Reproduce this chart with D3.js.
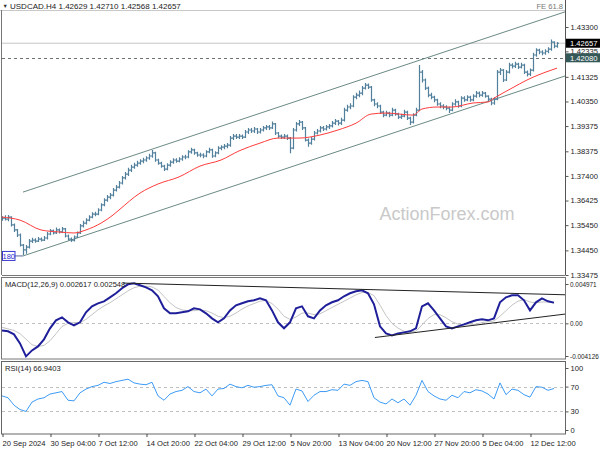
<!DOCTYPE html>
<html><head><meta charset="utf-8">
<script src="https://cdn.jsdelivr.net/npm/d3@7"></script>
<style>body{margin:0;background:#fff}svg{display:block;font-family:"Liberation Sans",Arial,sans-serif}</style>
</head><body><svg id="c" width="600" height="450"></svg>
<script>
// ---------- DATA ----------
const symbol = "USDCAD.H4";
const lastOHLC = ["1.42629", "1.42710", "1.42568", "1.42657"];
const firstOpen = 1.3568;
const closes = [
1.3573,1.3569,1.3577,1.3546,1.3526,1.3506,1.3466,1.3447,1.3458,1.3482,
1.3486,1.3482,1.3490,1.3486,1.3494,1.3510,1.3522,1.3514,1.3526,1.3518,
1.3530,1.3502,1.3490,1.3486,1.3498,1.3514,1.3542,1.3553,1.3565,1.3577,
1.3589,1.3589,1.3605,1.3625,1.3644,1.3656,1.3664,1.3684,1.3696,1.3712,
1.3732,1.3747,1.3763,1.3775,1.3783,1.3791,1.3799,1.3803,1.3811,1.3819,
1.3831,1.3803,1.3791,1.3779,1.3767,1.3783,1.3795,1.3803,1.3799,1.3807,
1.3815,1.3815,1.3835,1.3843,1.3831,1.3823,1.3823,1.3819,1.3835,1.3843,
1.3819,1.3831,1.3850,1.3854,1.3858,1.3862,1.3890,1.3898,1.3894,1.3898,
1.3894,1.3914,1.3922,1.3918,1.3926,1.3914,1.3922,1.3930,1.3934,1.3930,
1.3946,1.3910,1.3898,1.3894,1.3898,1.3890,1.3850,1.3922,1.3946,1.3953,
1.3930,1.3882,1.3870,1.3886,1.3910,1.3918,1.3930,1.3926,1.3934,1.3938,
1.3949,1.3957,1.3949,1.3961,1.4001,1.4013,1.4017,1.4052,1.4060,1.4068,
1.4088,1.4100,1.4092,1.4041,1.4025,1.4017,1.3993,1.3981,1.3989,1.3981,
1.4001,1.3985,1.3973,1.3977,1.3993,1.3969,1.3953,1.3981,1.4001,1.4151,
1.4120,1.4088,1.4060,1.4052,1.4041,1.4025,1.4017,1.4013,1.4009,1.4001,
1.4025,1.4033,1.4017,1.4048,1.4041,1.4052,1.4041,1.4056,1.4068,1.4060,
1.4068,1.4056,1.4044,1.4029,1.4044,1.4151,1.4159,1.4120,1.4151,1.4179,
1.4175,1.4183,1.4171,1.4179,1.4151,1.4143,1.4159,1.4219,1.4238,1.4231,
1.4227,1.4234,1.4242,1.4270,1.4254,1.42657];
const highs = [
1.3580,1.3584,1.3585,1.3580,1.3552,1.3530,1.3512,1.3470,1.3466,1.3490,
1.3495,1.3493,1.3498,1.3496,1.3502,1.3518,1.3530,1.3528,1.3536,1.3532,
1.3538,1.3534,1.3508,1.3496,1.3504,1.3520,1.3550,1.3562,1.3572,1.3584,
1.3596,1.3598,1.3612,1.3632,1.3652,1.3664,1.3672,1.3692,1.3704,1.3720,
1.3740,1.3756,1.3772,1.3784,1.3792,1.3800,1.3806,1.3812,1.3818,1.3828,
1.3843,1.3836,1.3808,1.3796,1.3784,1.3790,1.3802,1.3810,1.3810,1.3814,
1.3822,1.3824,1.3842,1.3852,1.3848,1.3836,1.3832,1.3830,1.3842,1.3852,
1.3848,1.3838,1.3858,1.3862,1.3866,1.3870,1.3898,1.3906,1.3906,1.3906,
1.3904,1.3922,1.3930,1.3930,1.3934,1.3930,1.3930,1.3938,1.3942,1.3942,
1.3956,1.3950,1.3914,1.3904,1.3906,1.3904,1.3894,1.3930,1.3954,1.3962,
1.3958,1.3934,1.3888,1.3894,1.3918,1.3926,1.3938,1.3938,1.3942,1.3946,
1.3958,1.3966,1.3962,1.3970,1.4010,1.4022,1.4028,1.4060,1.4070,1.4078,
1.4096,1.4108,1.4106,1.4096,1.4046,1.4032,1.4022,1.3998,1.3998,1.3994,
1.4010,1.4006,1.3990,1.3986,1.4002,1.3998,1.3974,1.3988,1.4010,1.4179,
1.4160,1.4126,1.4094,1.4070,1.4058,1.4046,1.4032,1.4024,1.4020,1.4014,
1.4032,1.4044,1.4038,1.4056,1.4056,1.4060,1.4058,1.4064,1.4076,1.4074,
1.4076,1.4072,1.4060,1.4050,1.4052,1.4160,1.4168,1.4164,1.4160,1.4188,
1.4186,1.4192,1.4188,1.4188,1.4184,1.4158,1.4166,1.4228,1.4246,1.4244,
1.4238,1.4242,1.4250,1.4280,1.4274,1.4271];
const lows = [
1.3562,1.3563,1.3560,1.3540,1.3518,1.3498,1.3460,1.3427,1.3432,1.3452,
1.3474,1.3475,1.3478,1.3480,1.3482,1.3488,1.3505,1.3508,1.3510,1.3512,
1.3514,1.3496,1.3484,1.3478,1.3480,1.3494,1.3510,1.3536,1.3548,1.3560,
1.3572,1.3580,1.3584,1.3600,1.3620,1.3638,1.3648,1.3658,1.3678,1.3690,
1.3706,1.3726,1.3740,1.3756,1.3768,1.3776,1.3784,1.3790,1.3796,1.3804,
1.3812,1.3796,1.3784,1.3772,1.3760,1.3762,1.3776,1.3788,1.3792,1.3794,
1.3800,1.3806,1.3810,1.3828,1.3824,1.3816,1.3814,1.3810,1.3814,1.3830,
1.3812,1.3814,1.3826,1.3842,1.3846,1.3850,1.3856,1.3882,1.3886,1.3886,
1.3886,1.3890,1.3906,1.3910,1.3910,1.3906,1.3908,1.3916,1.3922,1.3922,
1.3926,1.3902,1.3890,1.3886,1.3886,1.3882,1.3830,1.3846,1.3916,1.3938,
1.3922,1.3876,1.3856,1.3864,1.3880,1.3904,1.3912,1.3918,1.3920,1.3926,
1.3932,1.3942,1.3940,1.3942,1.3956,1.3994,1.4004,1.4012,1.4044,1.4052,
1.4060,1.4082,1.4084,1.4034,1.4016,1.4008,1.3986,1.3972,1.3976,1.3972,
1.3976,1.3978,1.3966,1.3966,1.3972,1.3962,1.3942,1.3948,1.3976,1.3996,
1.4110,1.4080,1.4052,1.4044,1.4032,1.4018,1.4008,1.4004,1.4000,1.3989,
1.3996,1.4018,1.4010,1.4012,1.4034,1.4036,1.4034,1.4036,1.4050,1.4052,
1.4054,1.4050,1.4036,1.4020,1.4022,1.4040,1.4140,1.4112,1.4116,1.4146,
1.4166,1.4168,1.4164,1.4166,1.4144,1.4134,1.4136,1.4154,1.4212,1.4222,
1.4218,1.4220,1.4226,1.4236,1.4246,1.4248];

// red moving average (bar index, value)
const maIdx = [0,6,13,19,24,28,33,37,39,46,52,59,66,73,79,86,92,99,106,112,118,123,128,137,140,145,150,157,162,164,170,175,177,185];
const maVal = [1.3577,1.3565,1.3526,1.3518,1.3514,1.3526,1.3553,1.3585,1.3605,1.3672,1.3708,1.3736,1.3779,1.3803,1.3839,1.3870,1.3890,1.3890,1.3902,1.3922,1.3949,1.3985,1.3989,1.3981,1.4005,1.4013,1.4013,1.4029,1.4033,1.4048,1.4088,1.4120,1.4131,1.4167];

// MACD(12,26,9), one value every 2 bars
const macdMain = [
-0.00089,-0.00101,-0.00139,-0.00253,-0.00417,-0.00342,-0.00291,-0.00202,-0.00063,0.00038,
0.00076,0.00013,-0.00025,0.00013,0.00139,0.00215,0.00253,0.00278,0.00329,0.00380,
0.00443,0.00493,0.00506,0.00481,0.00455,0.00417,0.00342,0.00190,0.00127,0.00127,
0.00139,0.00152,0.00190,0.00177,0.00127,0.00063,0.00013,0.00063,0.00164,0.00228,
0.00253,0.00278,0.00291,0.00316,0.00291,0.00164,0.00013,-0.00063,0.00013,0.00190,
0.00215,0.00089,0.00063,0.00164,0.00228,0.00266,0.00291,0.00342,0.00380,0.00405,
0.00417,0.00380,0.00240,-0.00038,-0.00127,-0.00152,-0.00127,-0.00114,-0.00101,-0.00063,
0.00215,0.00253,0.00164,0.00063,-0.00038,-0.00063,-0.00038,-0.00013,0.00013,0.00038,
0.00051,0.00038,0.00063,0.00266,0.00329,0.00354,0.00354,0.00291,0.00164,0.00266,
0.00316,0.00278,0.00262];
const macdSignal = [
-0.0005,-0.0007,-0.0009,-0.0013,-0.0020,-0.0027,-0.0029,-0.0028,-0.0022,-0.0013,
-0.0004,0.0000,0.0001,0.0001,0.0005,0.0011,0.0017,0.0022,0.0026,0.0031,
0.0036,0.0041,0.0045,0.0047,0.0047,0.0046,0.0042,0.0034,0.0026,0.0020,
0.0017,0.0016,0.0016,0.0017,0.0016,0.0013,0.0009,0.0007,0.0009,0.0013,
0.0018,0.0022,0.0025,0.0028,0.0029,0.0025,0.0018,0.0009,0.0005,0.0008,
0.0013,0.0013,0.0011,0.0012,0.0016,0.0020,0.0024,0.0028,0.0032,0.0036,
0.0039,0.0039,0.0035,0.0023,0.0010,0.0000,-0.0006,-0.0010,-0.0011,-0.0010,
-0.0002,0.0006,0.0011,0.0011,0.0007,0.0002,-0.0001,-0.0002,-0.0002,-0.0001,
0.0001,0.0002,0.0003,0.0009,0.0016,0.0023,0.0028,0.0030,0.0027,0.0026,
0.0027,0.0027,0.00255];
const macdText = ["0.002617", "0.002548"];
// RSI(14), one value every 2 bars
const rsi = [
55,52,40,33,30,45,50,52,58,60,
62,48,47,60,66,70,72,77,75,78,
80,82,76,74,73,77,55,48,58,62,
64,70,62,60,66,55,66,67,74,70,
68,72,69,70,72,73,55,52,40,66,
63,46,56,62,62,65,64,74,72,78,
80,78,52,45,42,50,44,50,40,56,
80,62,55,50,48,56,52,62,60,65,
63,58,50,76,57,66,64,57,53,70,
69,64,66.94];
const rsiText = "66.9403";
const sampleStep = 2;

const priceTicks = [1.43300,1.42335,1.41325,1.40350,1.39375,1.38375,1.37400,1.36425,1.35450,1.34450,1.33475];
const macdTicks = [0.004971, 0, -0.004126];
const macdTickText = ["0.004971", "0.00", "-0.004126"];
const rsiTicks = [100, 70, 30, 0];
const rsiLevels = [70, 30];
const timeLabels = ["20 Sep 2024","30 Sep 04:00","7 Oct 12:00","14 Oct 20:00","22 Oct 04:00","29 Oct 12:00","5 Nov 20:00","13 Nov 04:00","20 Nov 12:00","27 Nov 20:00","5 Dec 04:00","12 Dec 12:00"];
const timeIdx = [0,16,32,48,64,80,96,112,128,144,160,176];
const lastIndex = 187.67;

const channelUpper = [[7, 1.3676], [187.67, 1.4390]];
const channelLower = [[7, 1.3423], [187.67, 1.4136]];
const macdUpper = [[40.3, 0.00509], [187.67, 0.00361]];
const macdLower = [[124.3, -0.00179], [187.67, 0.00117]];
const bidLevel = 1.42657;
const dashLevel = 1.42080;
const lowLabel = {idx: 7, price: 1.3423, text: "180"};
const feText = "FE 61.8";
const watermark = "ActionForex.com";

// ---------- DRAW ----------
const svg = d3.select("#c");
const L = 2, R = 565;
const P = {main:[10,275], macd:[277.5,359], rsi:[361.5,434]};
const x = d3.scaleLinear().domain([0, lastIndex]).range([L, R]);
const yP = d3.scaleLinear().domain([1.33475, 1.43300]).range([275, 27]);
const yM = d3.scaleLinear().domain([-0.004126, 0.004971]).range([356, 284]);
const yR = d3.scaleLinear().domain([0, 100]).range([430, 368]);
const fs = 7.6, txt = "#222";

const defs = svg.append("defs");
Object.entries(P).forEach(([k,[t,b]]) => {
  defs.append("clipPath").attr("id","cl-"+k).append("rect")
    .attr("x",L).attr("y",t).attr("width",R-L).attr("height",b-t);
});

// watermark
svg.append("text").attr("x",447).attr("y",220).attr("text-anchor","middle")
  .attr("font-size",18).attr("fill","#c9c9c9").text(watermark);

// ---- main panel ----
const gm = svg.append("g").attr("clip-path","url(#cl-main)");
gm.append("line").attr("x1",L).attr("x2",R).attr("y1",yP(bidLevel)).attr("y2",yP(bidLevel))
  .attr("stroke","#c6c6c6").attr("stroke-width",1);
gm.append("line").attr("x1",L).attr("x2",R).attr("y1",Math.round(yP(dashLevel))+0.5).attr("y2",Math.round(yP(dashLevel))+0.5)
  .attr("stroke","#6a7272").attr("stroke-dasharray","3,3");

const lineP = d3.line().x(d=>x(d[0])).y(d=>yP(d[1]));
[channelUpper, channelLower].forEach(c => gm.append("path").attr("d",lineP(c))
  .attr("fill","none").attr("stroke","#6a8a84").attr("stroke-width",1));

// bars
const bars = d3.range(closes.length).map(i => ({i, o: i ? closes[i-1] : firstOpen, h: highs[i], l: lows[i], c: closes[i]}));
gm.append("g").selectAll("path").data(bars).join("path")
  .attr("d", d => {
    const xx = Math.round(x(d.i)) + 0.5;
    return `M${xx},${yP(d.h)}V${yP(d.l)}M${xx-1.5},${yP(d.o)}H${xx}M${xx},${yP(d.c)}H${xx+1.5}`;
  })
  .attr("fill","none").attr("stroke","#52809c").attr("stroke-width",1.2);

// MA
gm.append("path").datum(maIdx.map((d,i)=>[d, maVal[i]]))
  .attr("d", d3.line().x(d=>x(d[0])).y(d=>yP(d[1])).curve(d3.curveMonotoneX))
  .attr("fill","none").attr("stroke","#ff3b3b").attr("stroke-width",1);

// low label box
svg.append("line").attr("x1",15).attr("x2",x(lowLabel.idx)).attr("y1",yP(lowLabel.price)).attr("y2",yP(lowLabel.price))
  .attr("stroke","#5a6a9a");
svg.append("rect").attr("x",2.5).attr("y",yP(lowLabel.price)-4.5).attr("width",12.5).attr("height",9)
  .attr("fill","#fff").attr("stroke","#3a3ad0");
svg.append("text").attr("x",8.8).attr("y",yP(lowLabel.price)+3).attr("text-anchor","middle")
  .attr("font-size",7.5).attr("fill","#2a2ad0").text(lowLabel.text);

// frame main
svg.append("line").attr("x1",0).attr("x2",R).attr("y1",10.5).attr("y2",10.5).attr("stroke","#c8c8c8");
svg.append("line").attr("x1",L-0.5).attr("x2",L-0.5).attr("y1",10).attr("y2",P.main[1]).attr("stroke","#777");
svg.append("line").attr("x1",L).attr("x2",R).attr("y1",P.main[1]+0.5).attr("y2",P.main[1]+0.5).attr("stroke","#777");
svg.append("line").attr("x1",R+0.5).attr("x2",R+0.5).attr("y1",0).attr("y2",P.main[1]).attr("stroke","#555");

// price axis
const ax = svg.append("g").attr("transform",`translate(${R+0.5},0)`)
  .call(d3.axisRight(yP).tickValues(priceTicks).tickFormat(d3.format(".5f")).tickSize(3).tickPadding(2));
ax.select(".domain").remove();
ax.selectAll("text").attr("font-size",fs).attr("fill",txt);
ax.selectAll("line").attr("stroke","#555");

// price boxes
[[bidLevel,"#000","1.42657"],[dashLevel,"#355858","1.42080"]].forEach(([v,col,t])=>{
  const yy = yP(v);
  svg.append("rect").attr("x",R+1).attr("y",yy-4.5).attr("width",34).attr("height",9).attr("fill",col);
  svg.append("text").attr("x",R+5).attr("y",yy+3).attr("font-size",fs).attr("fill","#fff").text(t);
});

// title & FE
svg.append("text").attr("x",2.5).attr("y",8).attr("font-size",5.5).attr("fill","#333").text("▼");
svg.append("text").attr("x",10).attr("y",8.5).attr("font-size",8).attr("fill",txt)
  .text(`${symbol}  ${lastOHLC.join(" ")}`);
svg.append("text").attr("x",563).attr("y",8.5).attr("text-anchor","end").attr("font-size",7.6).attr("fill","#777").text(feText);

// ---- MACD panel ----
const gM = svg.append("g").attr("clip-path","url(#cl-macd)");
gM.append("line").attr("x1",L).attr("x2",R).attr("y1",Math.round(yM(0))+0.5).attr("y2",Math.round(yM(0))+0.5)
  .attr("stroke","#c0c0c0").attr("stroke-dasharray","3,3");
const lineM = d3.line().x((d,i)=>x(i*sampleStep)).y(d=>yM(d));
gM.append("path").datum(macdSignal).attr("d",lineM).attr("fill","none").attr("stroke","#c4c4c4").attr("stroke-width",1);
gM.append("path").datum(macdMain).attr("d",lineM).attr("fill","none").attr("stroke","#1f1f9a").attr("stroke-width",2);
const lineMt = d3.line().x(d=>x(d[0])).y(d=>yM(d[1]));
[macdUpper, macdLower].forEach(c => gM.append("path").attr("d",lineMt(c)).attr("fill","none").attr("stroke","#222").attr("stroke-width",1));
svg.append("rect").attr("x",L-0.5).attr("y",P.macd[0]).attr("width",R-L+1).attr("height",P.macd[1]-P.macd[0])
  .attr("fill","none").attr("stroke","#777");
svg.append("text").attr("x",5).attr("y",287).attr("font-size",fs).attr("fill",txt)
  .text(`MACD(12,26,9) ${macdText.join(" ")}`);
const axM = svg.append("g").attr("transform",`translate(${R+0.5},0)`)
  .call(d3.axisRight(yM).tickValues(macdTicks).tickFormat((d,i)=>macdTickText[i]).tickSize(3).tickPadding(1.5));
axM.select(".domain").remove();
axM.selectAll("text").attr("font-size",6.4).attr("fill",txt);
axM.selectAll("line").attr("stroke","#555");

// ---- RSI panel ----
const gR = svg.append("g").attr("clip-path","url(#cl-rsi)");
rsiLevels.forEach(v => gR.append("line").attr("x1",L).attr("x2",R).attr("y1",Math.round(yR(v))+0.5).attr("y2",Math.round(yR(v))+0.5)
  .attr("stroke","#c0c0c0").attr("stroke-dasharray","3,3"));
gR.append("path").datum(rsi).attr("d", d3.line().x((d,i)=>x(i*sampleStep)).y(d=>yR(d)))
  .attr("fill","none").attr("stroke","#3d9bf5").attr("stroke-width",1);
svg.append("rect").attr("x",L-0.5).attr("y",P.rsi[0]).attr("width",R-L+1).attr("height",P.rsi[1]-P.rsi[0])
  .attr("fill","none").attr("stroke","#666");
svg.append("text").attr("x",5).attr("y",371).attr("font-size",fs).attr("fill",txt).text(`RSI(14) ${rsiText}`);
const axR = svg.append("g").attr("transform",`translate(${R+0.5},0)`)
  .call(d3.axisRight(yR).tickValues(rsiTicks).tickSize(3).tickPadding(2));
axR.select(".domain").remove();
axR.selectAll("text").attr("font-size",fs).attr("fill",txt);
axR.selectAll("line").attr("stroke","#555");

// ---- time axis ----
const axX = svg.append("g").attr("transform",`translate(0.5,${P.rsi[1]})`)
  .call(d3.axisBottom(x).tickValues(timeIdx).tickFormat((d,i)=>timeLabels[i]).tickSize(3).tickPadding(2));
axX.select(".domain").remove();
axX.selectAll("text").attr("font-size",fs).attr("fill",txt).attr("text-anchor","start").attr("dx",-0.5).attr("dy","0.9em");
axX.selectAll("line").attr("stroke","#444");
</script></body></html>
